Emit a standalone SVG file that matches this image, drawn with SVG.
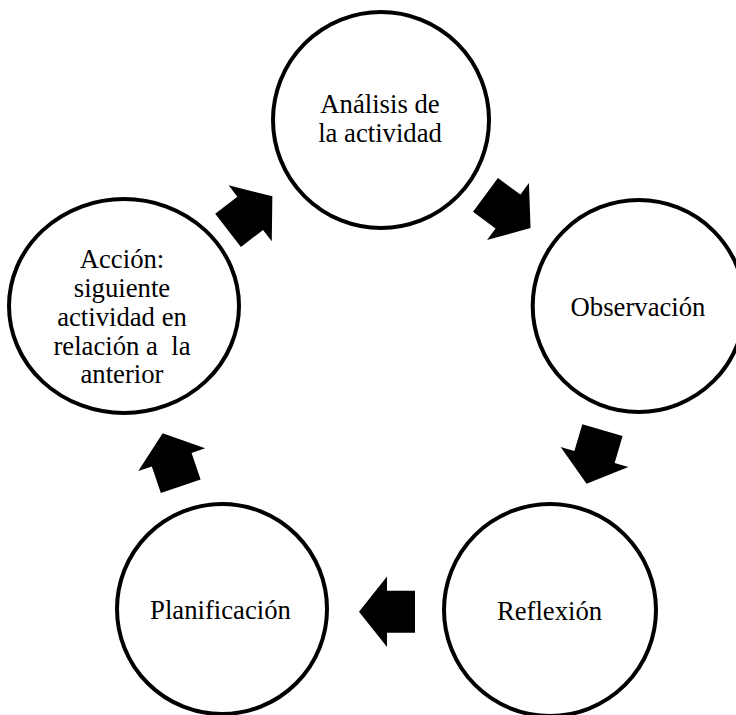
<svg xmlns="http://www.w3.org/2000/svg" width="736" height="715" viewBox="0 0 736 715">
<style>
.n{fill:#fff;stroke:#000;stroke-width:4}
.t{font-family:"Liberation Serif","Times New Roman",serif;font-size:26.7px;fill:#000;text-anchor:middle}
.a{fill:#000}
</style>
<defs>
<path id="arr" d="M-28,-21 L0,-21 L0,-35.3 L28,0 L0,35.3 L0,21 L-28,21 Z"/>
</defs>
<rect width="736" height="715" fill="#fff"/>
<g id="connectors">
<use href="#arr" class="a" transform="translate(508,211.5) rotate(36.4)"/>
<use href="#arr" class="a" transform="translate(594.5,457) rotate(106.5)"/>
<use href="#arr" class="a" transform="translate(387,611.7) rotate(180)"/>
<use href="#arr" class="a" transform="translate(171.7,459.7) rotate(-108.8)"/>
<use href="#arr" class="a" transform="translate(250.2,213.3) rotate(-37.7)"/>
</g>
<g id="analisis">
<circle class="n" cx="381" cy="120" r="108"/>
<text class="t" x="380" y="113">Análisis de</text>
<text class="t" x="380" y="142">la actividad</text>
</g>
<g id="observacion">
<circle class="n" cx="638.7" cy="306" r="106"/>
<text class="t" x="638" y="316">Observación</text>
</g>
<g id="reflexion">
<circle class="n" cx="550" cy="610" r="106"/>
<text class="t" x="549.5" y="620">Reflexión</text>
</g>
<g id="planificacion">
<circle class="n" cx="222" cy="609" r="105"/>
<text class="t" x="220.5" y="619">Planificación</text>
</g>
<g id="accion">
<ellipse class="n" cx="124" cy="306" rx="115" ry="107"/>
<text class="t" x="122" y="268">Acción:</text>
<text class="t" x="122" y="297">siguiente</text>
<text class="t" x="122" y="326">actividad en</text>
<text class="t" x="122" y="355" xml:space="preserve">relación a  la</text>
<text class="t" x="122" y="383">anterior</text>
</g>
</svg>
